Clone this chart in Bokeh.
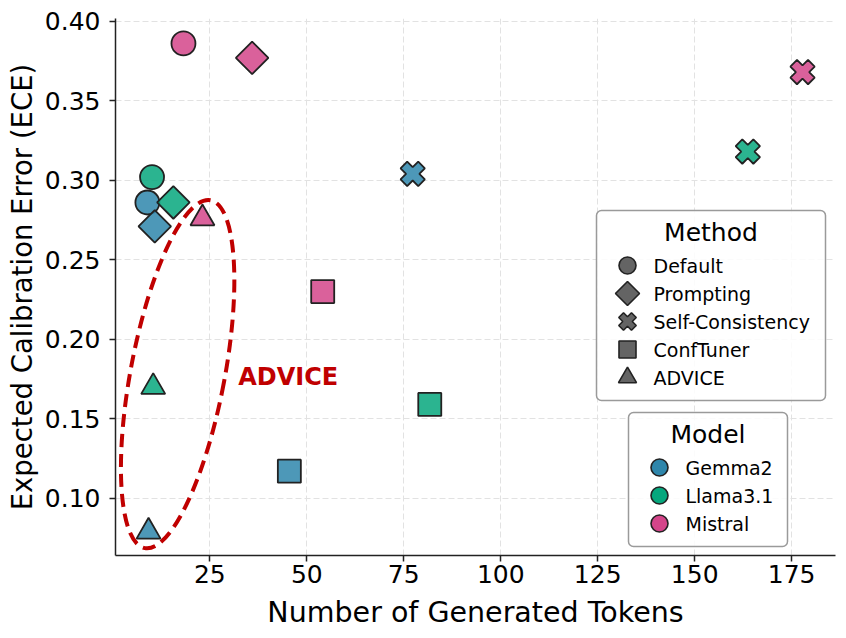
import math
from bokeh.plotting import figure
from bokeh.models import ColumnDataSource, Range1d, FixedTicker, Label, PrintfTickFormatter
from bokeh.embed import file_html
from bokeh.resources import INLINE

# ---------------- data ----------------
models = ["Gemma2", "Llama3.1", "Mistral"]
model_colors = ["#2E86AB", "#06A77D", "#D4458A"]
methods = ["Default", "Prompting", "Self-Consistency", "ConfTuner", "ADVICE"]

# values listed in the order of `models`
default_tokens = [8.9, 10.1, 18.2]
default_ece = [0.286, 0.302, 0.386]
prompting_tokens = [10.8, 15.6, 35.9]
prompting_ece = [0.271, 0.286, 0.377]
selfcons_tokens = [77.3, 163.7, 177.8]
selfcons_ece = [0.304, 0.318, 0.368]
conftuner_tokens = [45.5, 81.7, 54.1]
conftuner_ece = [0.117, 0.159, 0.230]
advice_tokens = [9.2, 10.4, 23.1]
advice_ece = [0.079, 0.170, 0.276]

x_ticks = [25, 50, 75, 100, 125, 150, 175]
y_ticks = [0.10, 0.15, 0.20, 0.25, 0.30, 0.35, 0.40]

# ---------------- style / layout ----------------
FONT = "DejaVu Sans"
EDGE = "#222222"
RED = "#C00000"
FRAME_W, FRAME_H = 720, 537

p = figure(frame_width=FRAME_W, frame_height=FRAME_H,
           x_range=Range1d(0.68, 186.3), y_range=Range1d(0.064, 0.4017),
           output_backend="svg", toolbar_location=None,
           min_border_left=115, min_border_right=5, min_border_top=18, min_border_bottom=75)
p.outline_line_color = None
p.background_fill_color = "white"
# frame-pixel coordinate system used only to lay out the legends
p.extra_x_ranges = {"px": Range1d(0, FRAME_W)}
p.extra_y_ranges = {"px": Range1d(0, FRAME_H)}

# grid
p.xgrid.ticker = FixedTicker(ticks=x_ticks)
p.ygrid.ticker = FixedTicker(ticks=y_ticks)
p.grid.grid_line_color = "#e2e2e2"
p.grid.grid_line_dash = "6 3"
p.grid.grid_line_width = 1

# axes
p.xaxis.ticker = FixedTicker(ticks=x_ticks)
p.yaxis.ticker = FixedTicker(ticks=y_ticks)
p.yaxis.formatter = PrintfTickFormatter(format="%.2f")
p.xaxis.axis_label = "Number of Generated Tokens"
p.yaxis.axis_label = "Expected Calibration Error (ECE)"
for ax in (p.xaxis, p.yaxis):
    ax.axis_label_text_font = FONT
    ax.axis_label_text_font_style = "normal"
    ax.axis_label_text_color = "black"
    ax.major_label_text_font = FONT
    ax.major_label_text_font_size = "25px"
    ax.major_label_text_color = "black"
    ax.axis_line_color = EDGE
    ax.axis_line_width = 1.5
    ax.major_tick_line_color = EDGE
    ax.major_tick_line_width = 1.5
    ax.major_tick_out = 6
    ax.major_tick_in = 0
    ax.minor_tick_line_color = None
p.xaxis.axis_label_text_font_size = "28.5px"
p.yaxis.axis_label_text_font_size = "27.5px"
p.xaxis.major_label_standoff = 3
p.xaxis.axis_label_standoff = 10
p.yaxis.major_label_standoff = 9
p.yaxis.axis_label_standoff = 4

# ADVICE highlight ellipse (annotation)
p.ellipse(x=[16.7], y=[0.178], width=[94], height=[354], angle=[-0.187],
          width_units="screen", height_units="screen",
          fill_color=None, line_color=RED, line_width=4, line_dash="13 7")
p.add_layout(Label(x=32.3, y=0.1765, text="ADVICE", text_font=FONT, text_font_style="bold",
                   text_font_size="24px", text_color=RED, text_baseline="middle"))

# data markers: (x, y, marker, size, angle, legend swatch size)
specs = [
    (default_tokens, default_ece, "circle", 24, 0.0, 17),
    (prompting_tokens, prompting_ece, "square", 23, math.pi / 4, 17),
    (selfcons_tokens, selfcons_ece, "plus", 25, math.pi / 4, 18),
    (conftuner_tokens, conftuner_ece, "square", 23, 0.0, 17),
    (advice_tokens, advice_ece, "triangle", 24, 0.0, 18),
]
for xs, ys, marker, size, ang, _ in specs:
    src = ColumnDataSource(dict(x=xs, y=ys, color=model_colors, model=models))
    p.scatter("x", "y", source=src, marker=marker, size=size, angle=ang,
              fill_color="color", fill_alpha=0.85, line_color=EDGE, line_width=1.8)


# ---------------- legends (frame pixel layout) ----------------
def draw_legend(title, labels, markers, sizes, angles, fills, left, top, width):
    pitch, first, tail = 28, 55, 23
    n = len(labels)
    bottom = top - first - pitch * (n - 1) - tail
    box = p.quad(left=[left], right=[left + width], top=[top], bottom=[bottom],
                 x_range_name="px", y_range_name="px",
                 fill_color="white", fill_alpha=0.85,
                 line_color="#9a9a9a", line_width=1.5)
    try:
        box.glyph.border_radius = 5
    except Exception:
        pass
    p.add_layout(Label(x=left + width / 2, y=top - 22, text=title,
                       x_range_name="px", y_range_name="px",
                       text_font=FONT, text_font_size="25px", text_color="black",
                       text_align="center", text_baseline="middle"))
    ys = [top - first - pitch * i for i in range(n)]
    for i in range(n):
        p.scatter(x=[left + 31], y=[ys[i]], x_range_name="px", y_range_name="px",
                  marker=markers[i], size=sizes[i], angle=angles[i],
                  fill_color=fills[i], line_color=EDGE, line_width=1.6)
        p.add_layout(Label(x=left + 57, y=ys[i], text=labels[i],
                           x_range_name="px", y_range_name="px",
                           text_font=FONT, text_font_size="19px", text_color="black",
                           text_baseline="middle"))


draw_legend("Method", methods,
            [s[2] for s in specs], [s[5] for s in specs], [s[4] for s in specs],
            ["#646464"] * len(specs),
            left=481, top=345, width=229)
draw_legend("Model", models,
            ["circle"] * len(models), [17] * len(models), [0.0] * len(models),
            model_colors,
            left=513, top=143, width=159)

open("out.html", "w").write(file_html(p, INLINE))
